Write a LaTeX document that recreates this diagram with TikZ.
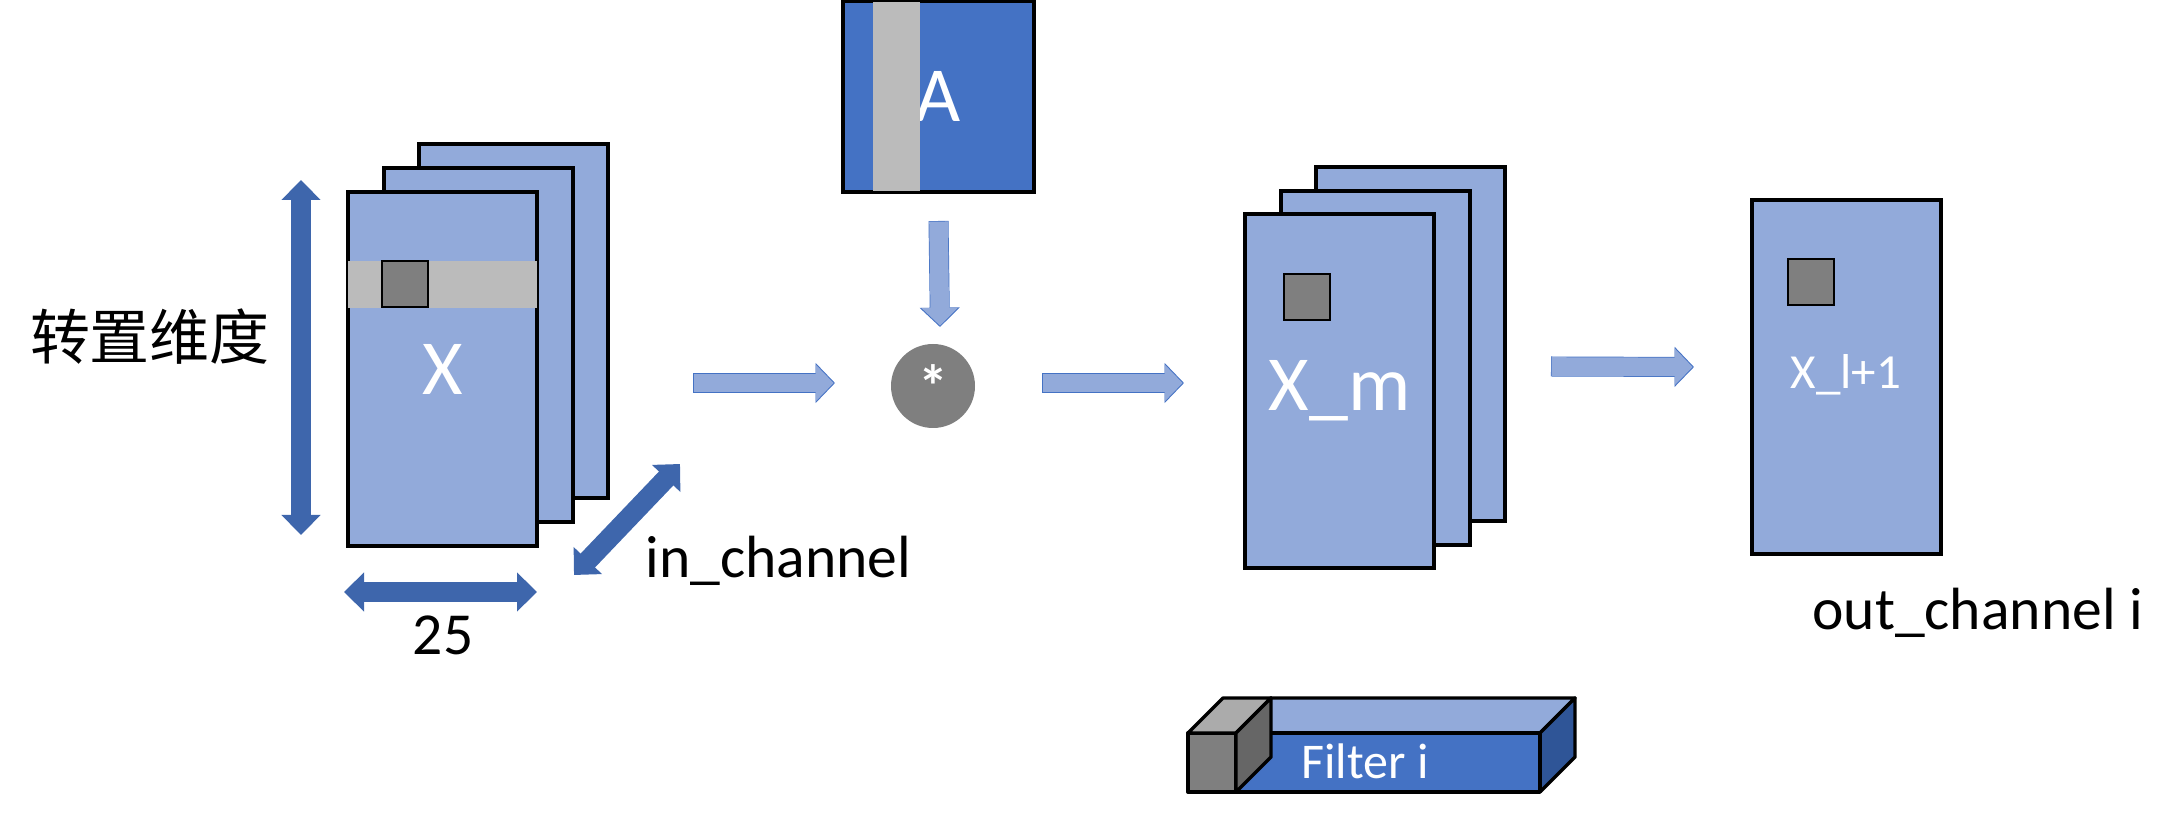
\documentclass[tikz,border=0pt]{standalone}
\usepackage{fontspec}
\setmainfont{Carlito}
\newfontfamily\cjk{Noto Sans CJK SC}
\usetikzlibrary{arrows.meta}
\definecolor{sheetblue}{HTML}{92AADA}
\definecolor{deepblue}{HTML}{4472C4}
\definecolor{dimblue}{HTML}{3E66AC}
\definecolor{sideblue}{HTML}{2F5597}
\definecolor{bandgray}{HTML}{BBBBBB}
\definecolor{cellgray}{HTML}{7F7F7F}
\tikzset{
	sheet/.style={draw=black,line width=1.7pt,fill=sheetblue,anchor=north west,inner sep=0pt,outer sep=0pt,minimum width=94.5pt,minimum height=177pt,text=white,font=\fontsize{39}{39}\selectfont},
	band/.style={fill=bandgray,anchor=north west,inner sep=0pt,outer sep=0pt},
	cell/.style={draw=black,line width=0.8pt,fill=cellgray,anchor=north west,inner sep=0pt,outer sep=0pt,minimum width=23pt,minimum height=23pt},
	caption/.style={anchor=base west,inner sep=0pt,font=\fontsize{29.8}{30}\selectfont},
	dimarrow/.style={draw=dimblue,line width=10pt,{Triangle[width=19pt,length=10pt]}-{Triangle[width=19pt,length=10pt]}},
	flowarrow/.style={draw=sheetblue,line width=9.3pt,shorten >=0.7pt,shorten <=0.3pt,-{Triangle[width=18pt,length=9pt]},
		preaction={draw=deepblue,line width=10pt,shorten >=0pt,shorten <=0pt,-{Triangle[width=19.5pt,length=9.7pt]}}},
	cubeedge/.style={draw=black,line width=1.7pt,line join=round},
}
\begin{document}
\begin{tikzpicture}[x=0.5pt,y=-0.5pt]
	\useasboundingbox (0,0) rectangle (2174,817);
	
	% input stack
	\node[sheet] (xback) at (419,144) {};
	\node[sheet] (xmid) at (384,168) {};
	\node[sheet] (xfront) at (348,192) {X};
	\node[band,minimum width=94.5pt,minimum height=23.5pt] (xband) at (348,261) {};
	\node[cell] (xcell) at (382,261) {};
	
	\draw[dimarrow] ([xshift=-23.5pt,yshift=6pt]xfront.north west) -- ([xshift=-23.5pt,yshift=5.5pt]xfront.south west);
	\draw[dimarrow] ([xshift=-2pt,yshift=-23pt]xfront.south west) -- ([yshift=-23pt]xfront.south east);
	\draw[dimarrow] ([xshift=18.5pt,yshift=-14.5pt]xfront.south east) -- ([xshift=36pt,yshift=17pt]xback.south east);
	
	\node[anchor=center,inner sep=0pt,font=\cjk\fontsize{30}{30}\selectfont] (dimlabel) at (150,337) {转置维度};
	\node[caption,anchor=base] (widthlabel) at (443,654) {25};
	\node[caption] (inlabel) at (645,578) {in\_channel};
	
	% attention matrix
	\node[sheet,fill=deepblue,minimum width=95.5pt,minimum height=95.5pt] (abox) at (843,1) {A};
	\node[band,minimum width=23.5pt,minimum height=94.5pt] (aband) at (873,2) {};
	
	\node[circle,fill=cellgray,inner sep=0pt,outer sep=0pt,minimum size=42pt,text=white,font=\fontsize{30}{30}\selectfont\bfseries] (mul) at (933,386) {\raisebox{-2pt}{*}};
	
	% output of the mixing
	\node[sheet] (xmback) at (1316,167) {};
	\node[sheet] (xmmid) at (1281,191) {};
	\node[sheet] (xmfront) at (1245,214) {X\_m};
	\node[cell] (xmcell) at (1284,274) {};
	
	\node[sheet] (outbox) at (1752,200) {};
	\node[cell] (outcell) at (1788,259) {};
	\node[anchor=center,inner sep=0pt,text=white,font=\fontsize{24.5}{24.5}\selectfont] (outname) at (1846,375) {X\_l+1};
	\node[caption] (outlabel) at (1812,630) {out\_channel i};
	
	\draw[flowarrow] ([xshift=42.5pt,yshift=-31pt]xback.east) -- ([xshift=-28pt,yshift=1.5pt]mul.west);
	\draw[flowarrow] ([yshift=-14.5pt]abox.south) -- ([xshift=3.5pt,yshift=8.5pt]mul.north);
	\draw[flowarrow] ([xshift=33.5pt,yshift=1.5pt]mul.east) -- ([xshift=-30.5pt,yshift=4pt]xmfront.west);
	\draw[flowarrow] ([xshift=23pt,yshift=-11.25pt]xmback.east) -- ([xshift=-29pt,yshift=5pt]outbox.west);
	
	% filter block
	\draw[cubeedge,fill=sheetblue] (1236,733) -- (1271,698) -- (1575,698) -- (1540,733) -- cycle;
	\draw[cubeedge,fill=sideblue] (1540,733) -- (1575,698) -- (1575,757) -- (1540,792) -- cycle;
	\draw[cubeedge,fill=deepblue] (1236,733) rectangle (1540,792);
	\draw[cubeedge,fill=cellgray] (1188,733) rectangle (1236,792);
	\draw[cubeedge,fill=black!33] (1188,733) -- (1223,698) -- (1271,698) -- (1236,733) -- cycle;
	\draw[cubeedge,fill=black!60] (1236,733) -- (1271,698) -- (1271,757) -- (1236,792) -- cycle;
	\node[anchor=base west,inner sep=0pt,text=white,font=\fontsize{25}{25}\selectfont] (filtername) at (1301,778) {Filter i};
\end{tikzpicture}
\end{document}
